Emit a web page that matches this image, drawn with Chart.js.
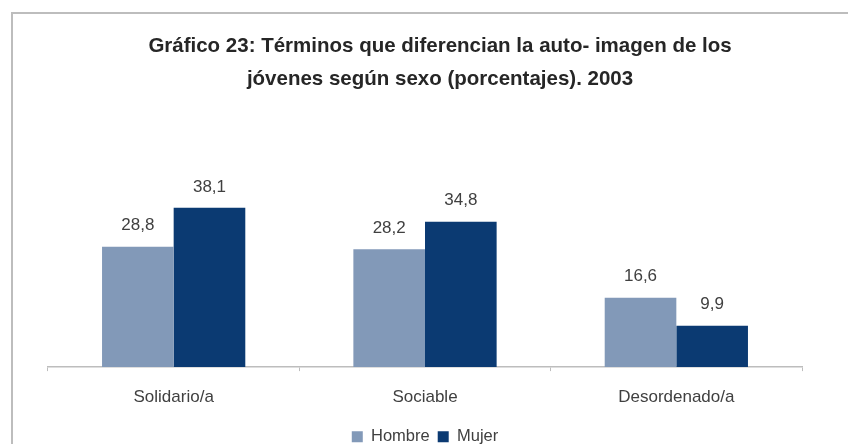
<!DOCTYPE html>
<html>
<head>
<meta charset="utf-8">
<script src="https://cdn.jsdelivr.net/npm/chart.js@4.4.1/dist/chart.umd.min.js"></script>
<style>
  html, body { margin: 0; padding: 0; background: #fff; }
  #wrap { position: relative; width: 848px; height: 444px; overflow: hidden; }
  #frame { position: absolute; left: 11px; top: 12px; width: 900px; height: 500px;
           border-top: 2px solid #bdbdbd; border-left: 2px solid #bdbdbd; }
  #title { position: absolute; left: 40px; width: 800px; top: 28px; text-align: center;
           font: bold 20.5px "Liberation Sans", Arial, sans-serif; color: #262626; line-height: 33px; }
  canvas { position: absolute; left: 0; top: 0; }
</style>
</head>
<body>
<div id="wrap">
  <div id="frame"></div>
  <canvas id="chart" width="848" height="444"></canvas>
  <div id="title">Gráfico 23: Términos que diferencian la auto- imagen de los<br>jóvenes según sexo (porcentajes). 2003</div>
</div>
<script>
const categories = ["Solidario/a", "Sociable", "Desordenado/a"];
const hombre = [28.8, 28.2, 16.6];
const mujer = [38.1, 34.8, 9.9];

// value labels above each bar, with comma decimals
const barValues = {
    id: "barValues",
    afterDatasetsDraw(chart) {
        const ctx = chart.ctx;
        ctx.save();
        ctx.font = '17px "Liberation Sans", Arial, sans-serif';
        ctx.fillStyle = "#404040";
        ctx.textAlign = "center";
        ctx.textBaseline = "middle";
        chart.data.datasets.forEach((ds, i) => {
            chart.getDatasetMeta(i).data.forEach((bar, j) => {
                ctx.fillText(ds.data[j].toFixed(1).replace(".", ","), bar.x, bar.y - 21);
            });
        });
        ctx.restore();
    }
};

Chart.defaults.font.family = '"Liberation Sans", Arial, sans-serif';
Chart.defaults.color = "#404040";

new Chart(document.getElementById("chart"), {
    type: "bar",
    data: {
        labels: categories,
        datasets: [
            {label: "Hombre", data: hombre, backgroundColor: "#8299b8"},
            {label: "Mujer", data: mujer, backgroundColor: "#0b3a72"}
        ]
    },
    options: {
        responsive: false,
        animation: false,
        layout: {padding: {left: 48, right: 46, top: 179, bottom: -11}},
        datasets: {bar: {categoryPercentage: 0.57, barPercentage: 1}},
        scales: {
            x: {
                grid: {display: true, offset: true, drawOnChartArea: false, drawTicks: true, tickLength: 4, color: "#bdbdbd"},
                border: {display: true, color: "#bdbdbd", width: 1.5},
                ticks: {font: {size: 17}, padding: 16, color: "#404040"},
                afterFit(scale) { scale.height -= 3; }
            },
            y: {display: false, min: 0, max: 45}
        },
        plugins: {
            legend: {
                position: "bottom",
                labels: {boxWidth: 11, boxHeight: 11, font: {size: 16.5}, padding: 8, color: "#404040"}
            },
            tooltip: {enabled: false}
        }
    },
    plugins: [barValues]
});
</script>
</body>
</html>
